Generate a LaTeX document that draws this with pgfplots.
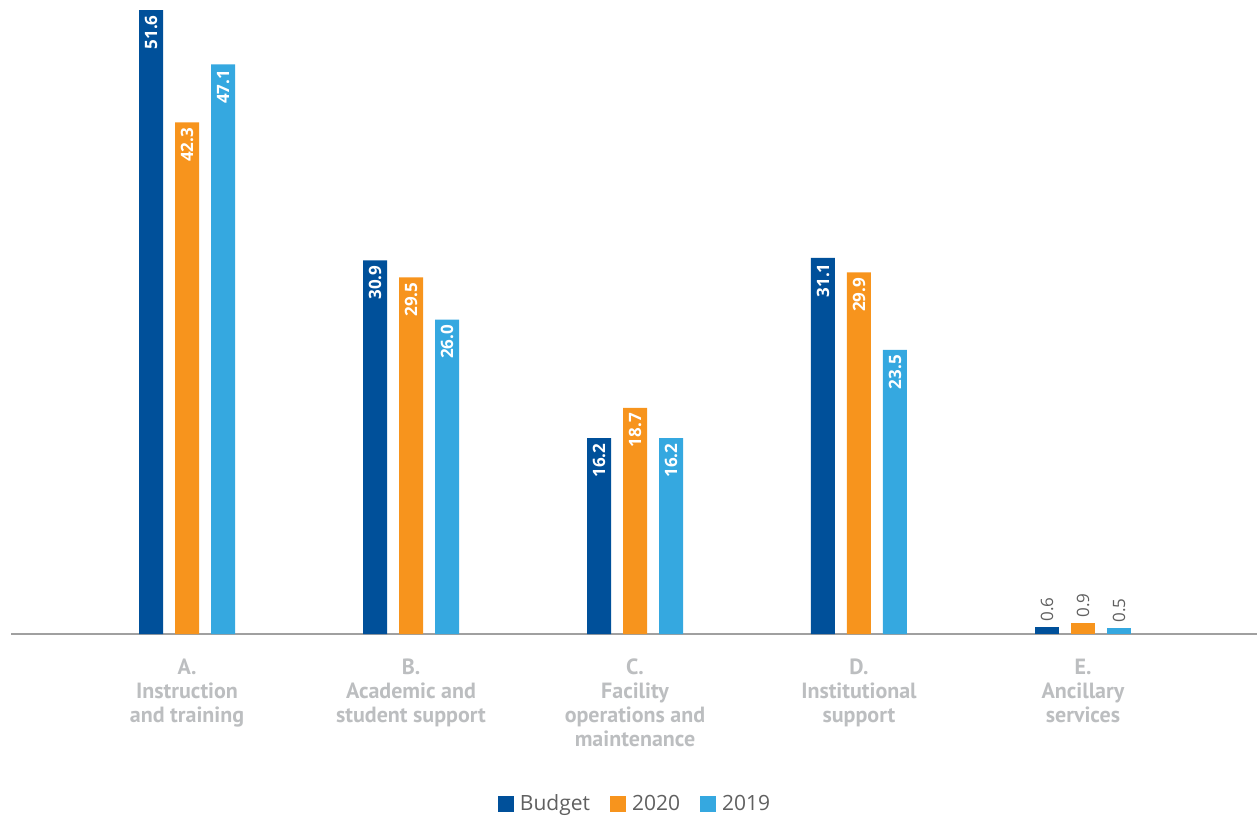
\documentclass[border=0pt]{standalone}
\usepackage{pgfplots}
\pgfplotsset{compat=1.18}
\usepackage{fontspec}
\setmainfont{Open Sans}
\newfontfamily\catfont{PT Sans}
\definecolor{cBud}{HTML}{00509A}
\definecolor{c20}{HTML}{F7941D}
\definecolor{c19}{HTML}{35A8E0}
\definecolor{catgray}{HTML}{BCBEC0}
\definecolor{axgray}{HTML}{A0A0A0}
\definecolor{txtgray}{HTML}{606060}
\begin{document}
\begin{tikzpicture}
\path[use as bounding box] (-5.5pt,-92pt) rectangle (623pt,317pt);
\begin{axis}[
  scale only axis,
  width=623pt, height=317pt,
  xmin=-0.786, xmax=4.777,
  ymin=0, ymax=52.43,
  axis x line*=bottom,
  axis y line=none,
  x axis line style={axgray, line width=1pt},
  xtick={0,1,2,3,4},
  xticklabels={{A.\\Instruction\\and training},{B.\\Academic and\\student support},{C.\\Facility\\operations and\\maintenance},{D.\\Institutional\\support},{E.\\Ancillary\\services}},
  xticklabel style={align=center, font=\catfont\bfseries\fontsize{11}{12}\selectfont, text=catgray, anchor=north, yshift=-9pt},
  major tick length=0pt,
  ybar, bar width=12pt,
  clip=false,
  legend columns=3,
  legend style={draw=none, at={(0.5016,0)}, anchor=center, yshift=-85pt,
    font=\fontsize{10.5}{12}\selectfont, text=txtgray,
    /tikz/every odd column/.append style={column sep=1pt},
    /tikz/every even column/.append style={column sep=8pt}},
  legend image code/.code={\fill[#1] (0pt,-4pt) rectangle (8pt,4pt);},
  nodes near coords,
  /pgf/number format/assume math mode=true,
  /pgf/number format/fixed,
  /pgf/number format/fixed zerofill,
  /pgf/number format/precision=1,
  nodes near coords style={rotate=90, anchor=east, font=\bfseries\fontsize{8.5}{10}\selectfont, text=white, inner sep=2.5pt},
]
\addplot[fill=cBud, draw=none, bar shift=-18pt] coordinates {(0,51.6) (1,30.9) (2,16.2) (3,31.1)};
\addlegendentry{Budget}
\addplot[fill=c20, draw=none, bar shift=0pt] coordinates {(0,42.3) (1,29.5) (2,18.7) (3,29.9)};
\addlegendentry{2020}
\addplot[fill=c19, draw=none, bar shift=18pt] coordinates {(0,47.1) (1,26.0) (2,16.2) (3,23.5)};
\addlegendentry{2019}
\addplot[fill=cBud, draw=none, bar shift=-18pt, forget plot, nodes near coords style={anchor=west, text=txtgray, font=\fontsize{8.5}{10}\selectfont}] coordinates {(4,0.6)};
\addplot[fill=c20, draw=none, bar shift=0pt, forget plot, nodes near coords style={anchor=west, text=txtgray, font=\fontsize{8.5}{10}\selectfont}] coordinates {(4,0.9)};
\addplot[fill=c19, draw=none, bar shift=18pt, forget plot, nodes near coords style={anchor=west, text=txtgray, font=\fontsize{8.5}{10}\selectfont}] coordinates {(4,0.5)};
\end{axis}
\end{tikzpicture}
\end{document}
